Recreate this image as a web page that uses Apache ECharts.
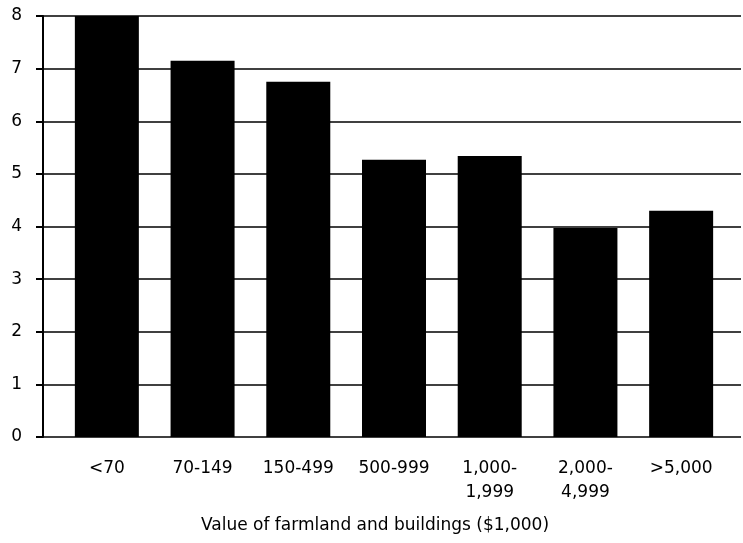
<!DOCTYPE html>
<html>
<head>
<meta charset="utf-8">
<script src="https://cdn.jsdelivr.net/npm/echarts@6/dist/echarts.min.js"></script>
<style>
html,body{margin:0;padding:0;background:#fff;}
#chart{width:743px;height:543px;}
</style>
</head>
<body>
<div id="chart"></div>
<script>
var categories = ['<70', '70-149', '150-499', '500-999', '1,000-\n1,999', '2,000-\n4,999', '>5,000'];
var values = [8.0, 7.15, 6.75, 5.27, 5.34, 3.97, 4.3];
var yTicks = [0, 1, 2, 3, 4, 5, 6, 7, 8];
var xAxisTitle = 'Value of farmland and buildings ($1,000)';

var FONT = '"DejaVu Sans", sans-serif';
var chart = echarts.init(document.getElementById('chart'), null, {renderer: 'canvas'});
chart.setOption({
  animation: false,
  backgroundColor: '#fff',
  grid: [
    {left: 43, right: 2, top: 16, bottom: 106},
    {left: 59, right: 14, top: 16, bottom: 106}
  ],
  xAxis: [
    {gridIndex: 0, type: 'value', show: false, min: 0, max: 1},
    {
      gridIndex: 1, type: 'category', data: categories,
      axisLine: {show: false}, axisTick: {show: false},
      axisLabel: {color: '#000', fontFamily: FONT, fontSize: 17, margin: 20, lineHeight: 24, interval: 0},
      name: xAxisTitle, nameLocation: 'middle', nameGap: 80,
      nameTextStyle: {color: '#000', fontFamily: FONT, fontSize: 17, padding: [0, 38, 0, 0]}
    }
  ],
  yAxis: [
    {
      gridIndex: 0, type: 'value', min: yTicks[0], max: yTicks[yTicks.length - 1], interval: 1,
      axisLine: {show: true, lineStyle: {color: '#000', width: 2}},
      axisTick: {show: true, length: 7, lineStyle: {color: '#000', width: 2}},
      axisLabel: {color: '#000', fontFamily: FONT, fontSize: 17, margin: 21},
      splitLine: {show: true, lineStyle: {color: '#000', width: 1.5}}
    },
    {gridIndex: 1, type: 'value', show: false, min: yTicks[0], max: yTicks[yTicks.length - 1]}
  ],
  series: [{
    type: 'bar', xAxisIndex: 1, yAxisIndex: 1,
    data: values, barWidth: 64,
    itemStyle: {color: '#000'}
  }]
});
</script>
</body>
</html>
